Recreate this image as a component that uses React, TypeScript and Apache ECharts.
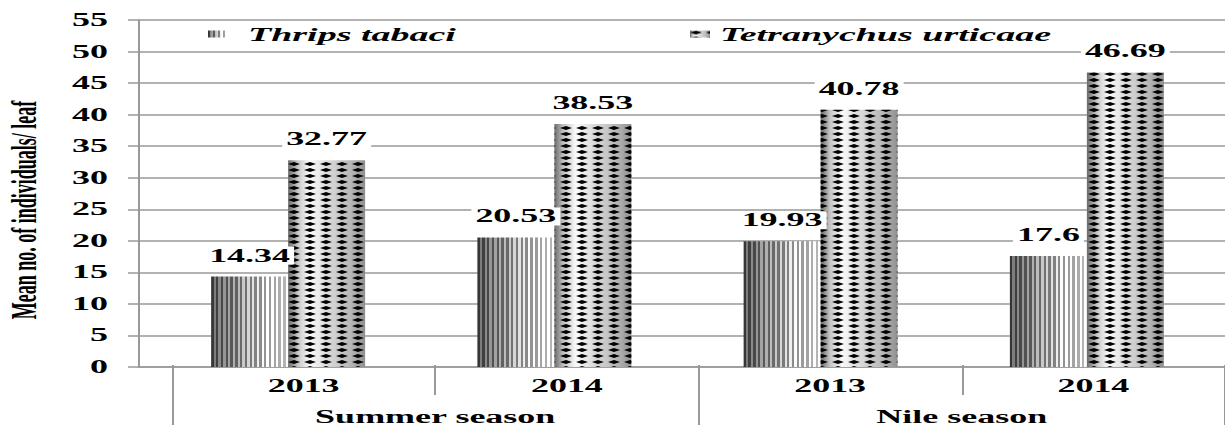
import React, { useEffect, useRef } from 'react';
import * as echarts from 'echarts';

// ---- data ----
const years = ['2013', '2014', '2013', '2014'];
const seasons = ['Summer season', 'Nile season'];
const seriesNames = ['Thrips tabaci', 'Tetranychus urticaae'];
const thrips = [14.34, 20.53, 19.93, 17.6];
const tetranychus = [32.77, 38.53, 40.78, 46.69];
const yTicks = { min: 0, max: 55, interval: 5 };
const yTitle = 'Mean no. of individuals/ leaf';

// The reference is an anamorphically stretched picture: draw at half width, stretch x2.
const SX = 2;
const W = 1225 / SX;
const H = 426;
const GRAY = '#999999';
const FONT = 'Liberation Serif';

function stripeFill() {
  const stops: { offset: number; color: string }[] = [];
  const n = 16;
  for (let i = 0; i < n; i++) {
    const t = i / (n - 1);
    const d = Math.round(55 + 125 * t);
    const l = Math.round(Math.min(255, 125 + 190 * t));
    const c1 = `rgb(${d},${d},${d})`;
    const c2 = `rgb(${l},${l},${l})`;
    stops.push({ offset: i / n, color: c1 });
    stops.push({ offset: (i + 0.5) / n, color: c1 });
    stops.push({ offset: (i + 0.5) / n, color: c2 });
    stops.push({ offset: (i + 1) / n, color: c2 });
  }
  return new echarts.graphic.LinearGradient(0, 0, 1, 0, stops);
}

function diamondBase() {
  return new echarts.graphic.LinearGradient(0, 0, 1, 0, [
    { offset: 0, color: '#6a6a6a' },
    { offset: 0.12, color: '#c4c4c4' },
    { offset: 0.28, color: '#fafafa' },
    { offset: 0.5, color: '#dcdcdc' },
    { offset: 0.8, color: '#b8b8b8' },
    { offset: 1, color: '#909090' },
  ]);
}

const labelStyle = {
  show: true,
  position: 'top' as const,
  distance: 12,
  fontFamily: FONT,
  fontWeight: 'bold' as const,
  fontSize: 18,
  color: '#000',
  backgroundColor: '#fff',
  padding: [0, 2],
};

const legendText = {
  fontFamily: FONT,
  fontWeight: 'bold' as const,
  fontStyle: 'italic' as const,
  fontSize: 19,
  color: '#000',
};

export default function App() {
  const ref = useRef<HTMLDivElement>(null);
  useEffect(() => {
    if (!ref.current) return;
    const chart = echarts.init(ref.current, null, { renderer: 'svg', width: W, height: H });
    const top = 20;
    const height = 347;
    chart.setOption({
      animation: false,
      backgroundColor: '#fff',
      grid: [
        { left: 69.5, top, height, width: W - 69.5 }, // frame & gridlines
        { left: 77.5, top, height, width: 532.5 }, // bars
        { left: 86, top, height, width: 532 }, // category labels
      ],
      legend: [
        {
          data: [seriesNames[0]], left: 104, top: 24.5, padding: 0,
          itemWidth: 10, itemHeight: 7, icon: 'rect', selectedMode: false,
          textStyle: { ...legendText, padding: [0, 0, 0, 5] },
        },
        {
          data: [seriesNames[1]], left: 345, top: 24.5, padding: 0,
          itemWidth: 10, itemHeight: 7, icon: 'rect', selectedMode: false,
          textStyle: legendText,
        },
      ],
      xAxis: [
        {
          gridIndex: 0, type: 'category', data: [''],
          axisLine: { show: true, lineStyle: { color: GRAY, width: 1.5 } },
          axisTick: { show: false }, axisLabel: { show: false }, splitLine: { show: false },
        },
        {
          gridIndex: 1, type: 'category', data: years, show: false,
        },
        {
          gridIndex: 2, type: 'category', data: years, position: 'bottom',
          axisLine: { show: false },
          axisTick: { show: true, interval: 0, length: 30, lineStyle: { color: GRAY, width: 1 } },
          axisLabel: { interval: 0, margin: 12, fontFamily: FONT, fontWeight: 'bold', fontSize: 18, color: '#000' },
        },
        {
          gridIndex: 2, type: 'category', data: seasons, position: 'bottom',
          axisLine: { show: false },
          axisTick: { show: true, interval: 0, length: 60, lineStyle: { color: GRAY, width: 1 } },
          axisLabel: { interval: 0, margin: 43, fontFamily: FONT, fontWeight: 'bold', fontSize: 18, color: '#000' },
        },
      ],
      yAxis: [
        {
          gridIndex: 0, type: 'value', ...yTicks,
          axisLine: { show: true, lineStyle: { color: GRAY, width: 1 } },
          axisTick: { show: true, length: 5.5, lineStyle: { color: GRAY, width: 1.5 } },
          axisLabel: { margin: 15.5, fontFamily: FONT, fontWeight: 'bold', fontSize: 18, color: '#000' },
          splitLine: { show: true, lineStyle: { color: GRAY, width: 1.5 } },
        },
        { gridIndex: 1, type: 'value', ...yTicks, show: false, splitLine: { show: false } },
        { gridIndex: 2, type: 'value', ...yTicks, show: false, splitLine: { show: false } },
      ],
      series: [
        {
          name: seriesNames[0], type: 'bar', xAxisIndex: 1, yAxisIndex: 1,
          data: thrips, barWidth: 38.5, barGap: '0%',
          itemStyle: { color: stripeFill() },
          label: labelStyle,
        },
        {
          name: seriesNames[1], type: 'bar', xAxisIndex: 1, yAxisIndex: 1,
          data: tetranychus, barWidth: 38.5, barGap: '0%',
          itemStyle: {
            color: diamondBase(),
            decal: {
              symbol: 'diamond', symbolSize: 1, symbolKeepAspect: false,
              color: '#000', backgroundColor: 'rgba(0,0,0,0)',
              dashArrayX: [6, 1.8], dashArrayY: [3.2, 1.5],
            },
          },
          label: labelStyle,
        },
      ],
      graphic: [
        {
          type: 'text', x: 12, y: 210, rotation: Math.PI / 2,
          style: {
            text: yTitle, fontFamily: FONT, fontWeight: 'bold', fontSize: 18, fill: '#000',
            align: 'center', verticalAlign: 'middle', textAlign: 'center', textVerticalAlign: 'middle',
          },
        },
      ],
    });
    return () => chart.dispose();
  }, []);
  return (
    <div
      ref={ref}
      style={{
        position: 'absolute', left: 0, top: 0, width: W, height: H,
        transform: `scaleX(${SX})`, transformOrigin: '0 0', background: '#fff',
      }}
    />
  );
}
